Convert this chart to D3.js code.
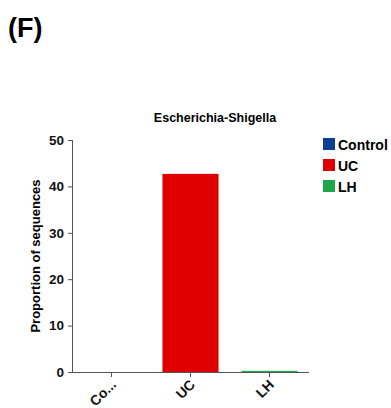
<!DOCTYPE html>
<html>
<head>
<meta charset="utf-8">
<script src="https://cdn.jsdelivr.net/npm/d3@7"></script>
<style>
  html, body { margin: 0; padding: 0; background: #fff; }
  svg text { font-family: "Liberation Sans", Arial, sans-serif; font-weight: bold; }
</style>
</head>
<body>
<script>
const categories = ["Control", "UC", "LH"];
const tickLabels = ["Co...", "UC", "LH"];
const values = [0, 42.7, 0.25];
const colors = ["#0b3f94", "#e00000", "#1da64a"];
const yTicks = [0, 10, 20, 30, 40, 50];
const title = "Escherichia-Shigella";
const yLabel = "Proportion of sequences";
const panelLabel = "(F)";

const W = 391, H = 408;
const svg = d3.select("body").append("svg").attr("width", W).attr("height", H);

const x = d3.scaleBand().domain(categories).range([72, 309]).paddingInner(0.29).paddingOuter(0.145);
const y = d3.scaleLinear().domain([0, 50]).range([372, 140]);

svg.append("text").attr("x", 8).attr("y", 37).attr("font-size", 27).text(panelLabel);

svg.append("text").attr("x", 215).attr("y", 122).attr("text-anchor", "middle")
  .attr("font-size", 12.5).text(title);

// bars
svg.selectAll("rect.bar").data(categories).enter().append("rect")
  .attr("class", "bar")
  .attr("x", d => x(d))
  .attr("width", x.bandwidth())
  .attr("y", (d, i) => y(values[i]))
  .attr("height", (d, i) => Math.max(0, y(0) - y(values[i])))
  .attr("fill", (d, i) => colors[i]);

// y axis
const yAxis = svg.append("g").attr("transform", "translate(72,0)")
  .call(d3.axisLeft(y).tickValues(yTicks).tickSize(4).tickPadding(4));
yAxis.selectAll("text").attr("font-size", 13.5).attr("fill", "#111");

// x axis
const xAxis = svg.append("g").attr("transform", "translate(0,372)")
  .call(d3.axisBottom(x).tickSize(5).tickSizeOuter(0).tickFormat((d, i) => tickLabels[i]));
xAxis.selectAll("text")
  .attr("font-size", 14).attr("fill", "#111")
  .attr("text-anchor", "end")
  .attr("x", 0).attr("y", 0)
  .attr("dx", 0).attr("dy", "0.35em")
  .attr("transform", "translate(2,10) rotate(-45)");

svg.selectAll(".domain, .tick line").attr("stroke", "#555");
xAxis.select(".domain").attr("d", "M72,0.5H309");
yAxis.select(".domain").attr("d", "M0.5,140V372.5");

// y label
svg.append("text").attr("transform", "translate(40,256) rotate(-90)")
  .attr("text-anchor", "middle").attr("font-size", 13).text(yLabel);

// legend
const lg = svg.append("g").attr("transform", "translate(323,138)");
categories.forEach((c, i) => {
  const g = lg.append("g").attr("transform", `translate(0,${i * 21})`);
  g.append("rect").attr("width", 12).attr("height", 12).attr("fill", colors[i]);
  g.append("text").attr("x", 15).attr("y", 11.5).attr("font-size", 14).text(c);
});
</script>
</body>
</html>
